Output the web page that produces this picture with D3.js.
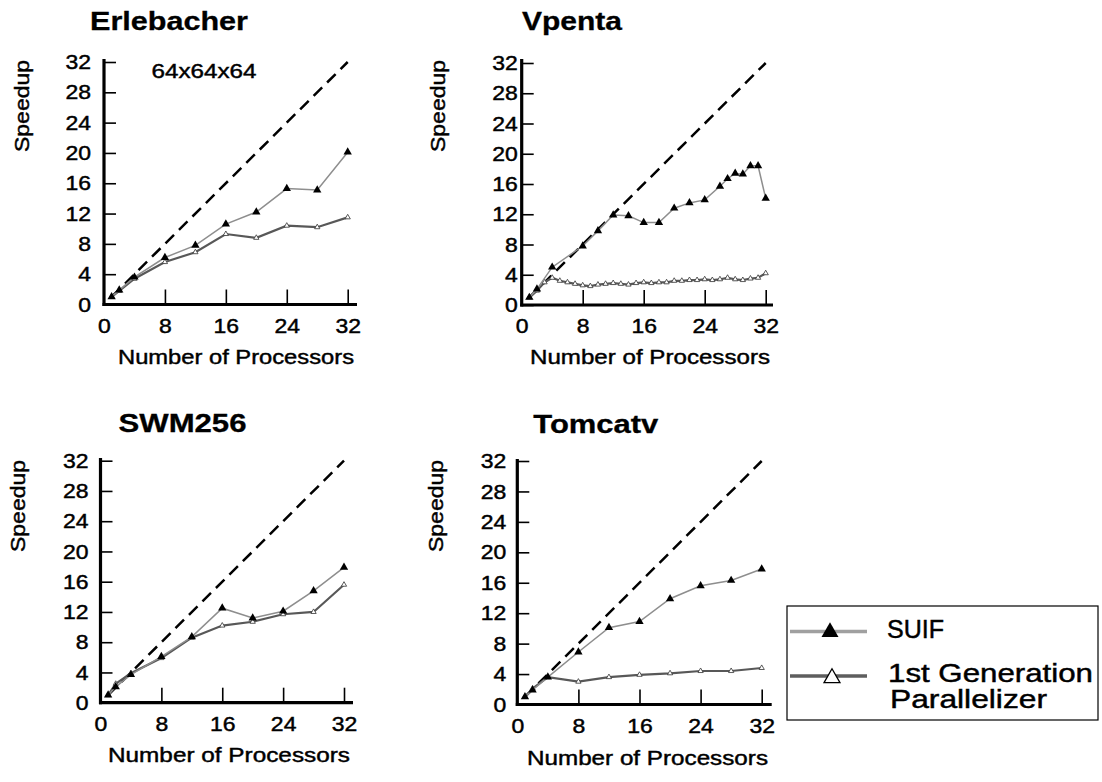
<!DOCTYPE html>
<html><head><meta charset="utf-8">
<script src="https://cdn.jsdelivr.net/npm/d3@7"></script>
<style>
body{margin:0;background:#fff;}
svg{display:block;background:#fff;}
text{font-family:"Liberation Sans", Arial, Helvetica, sans-serif; fill:#000; stroke:#000; stroke-width:0.45px;}
</style>
</head><body>
<svg id="chart" width="1102" height="782"></svg>
<script>
// ---------------- DATA ----------------
const titles = ["Erlebacher", "Vpenta", "SWM256", "Tomcatv"];
const xTickValues = [0, 8, 16, 24, 32];
const yTickValues = [0, 4, 8, 12, 16, 20, 24, 28, 32];
const xAxisTitle = "Number of Processors";
const yAxisTitle = "Speedup";
const annotation = "64x64x64";
const legendLabels = ["SUIF", "1st Generation", "Parallelizer"];

const idealProcs = [1, 32];
const idealSpeedup = [1, 32];

const erleProcs = [1, 2, 4, 8, 12, 16, 20, 24, 28, 32];
const erleSuif  = [1, 1.9, 3.6, 6.2, 7.8, 10.6, 12.2, 15.3, 15.1, 20.1];
const erleGen1  = [1, 1.8, 3.4, 5.6, 6.9, 9.3, 8.8, 10.4, 10.2, 11.5];

const vpentaSuifProcs = [1, 2, 4, 8, 10, 12, 14, 16, 18, 20, 22, 24, 26, 27, 28, 29, 30, 31, 32];
const vpentaSuif      = [1, 2.1, 5.0, 7.8, 9.8, 11.9, 11.8, 10.9, 10.9, 12.8, 13.5, 13.9, 15.7, 16.7, 17.4, 17.3, 18.4, 18.4, 14.1];
const vpentaGen1Procs = [1, 2, 3, 4, 5, 6, 7, 8, 9, 10, 11, 12, 13, 14, 15, 16, 17, 18, 19, 20, 21, 22, 23, 24, 25, 26, 27, 28, 29, 30, 31, 32];
const vpentaGen1      = [1, 1.9, 3.0, 3.6, 3.2, 3.0, 2.8, 2.6, 2.5, 2.7, 2.8, 2.9, 2.8, 2.7, 2.9, 3.0, 2.9, 3.0, 3.0, 3.2, 3.2, 3.3, 3.3, 3.4, 3.3, 3.4, 3.6, 3.4, 3.3, 3.5, 3.6, 4.2];

const swmProcs = [1, 2, 4, 8, 12, 16, 20, 24, 28, 32];
const swmSuif  = [1, 2.1, 3.7, 6.1, 8.7, 12.5, 11.2, 12.1, 14.8, 17.9];
const swmGen1  = [1, 2.5, 3.9, 5.9, 8.6, 10.2, 10.7, 11.7, 12.0, 15.6];

const tomProcs = [1, 2, 4, 8, 12, 16, 20, 24, 28, 32];
const tomSuif  = [1, 1.9, 3.6, 6.9, 10.1, 10.9, 13.9, 15.6, 16.3, 17.8];
const tomGen1  = [1, 2.1, 3.6, 3.0, 3.6, 3.9, 4.1, 4.4, 4.4, 4.8];

// ---------------- LAYOUT ----------------
const layouts = [
  {x0:104,   x32:347.7, y0:304.5, y32:62,    xEnd:357,   yTop:59,  gap:13,
   tX:169,   tY:29.5,  tW:158, spX:28.5,  spY:106, xlX:236,   xlY:364,   xlW:236},
  {x0:521.7, x32:765.7, y0:305,   y32:63,    xEnd:773,   yTop:59,  gap:4,
   tX:572,   tY:29.5,  tW:100, spX:445,   spY:106, xlX:650,   xlY:363.5, xlW:240},
  {x0:100.5, x32:344,   y0:702.7, y32:460.7, xEnd:353,   yTop:458, gap:12,
   tX:182.5, tY:431.5, tW:128, spX:25,    spY:506, xlX:229,   xlY:761.5, xlW:242},
  {x0:517.3, x32:761.7, y0:704.5, y32:461,   xEnd:771.7, yTop:459, gap:11,
   tX:595.8, tY:433,   tW:125, spX:443,   spY:506, xlX:647.5, xlY:765,   xlW:241}
];

const panels = [
  {suifX: erleProcs, suif: erleSuif, genX: erleProcs, gen: erleGen1},
  {suifX: vpentaSuifProcs, suif: vpentaSuif, genX: vpentaGen1Procs, gen: vpentaGen1},
  {suifX: swmProcs, suif: swmSuif, genX: swmProcs, gen: swmGen1},
  {suifX: tomProcs, suif: tomSuif, genX: tomProcs, gen: tomGen1}
];

const svg = d3.select("#chart");
const TICK_FS = 20.5, TICK_SX = 1.12;
const SUIF_COLOR = "#8e8e8e", GEN_COLOR = "#585858";

function zipXY(xs, ys){ return xs.map((v,i)=>[v, ys[i]]); }

panels.forEach((p, i) => {
  const L = layouts[i];
  const g = svg.append("g");
  const x = d3.scaleLinear().domain([0, 32]).range([L.x0, L.x32]);
  const y = d3.scaleLinear().domain([0, 32]).range([L.y0, L.y32]);

  // title
  g.append("text").attr("x", L.tX).attr("y", L.tY)
    .attr("text-anchor","middle").attr("font-size", 25).attr("font-weight","bold")
    .style("stroke-width","0.3px")
    .attr("textLength", L.tW).attr("lengthAdjust","spacingAndGlyphs")
    .text(titles[i]);

  // y axis
  const yAxis = d3.axisLeft(y).tickValues(yTickValues).tickSizeInner(-12).tickSizeOuter(0).tickPadding(L.gap);
  const ya = g.append("g").attr("transform", `translate(${L.x0},0)`).call(yAxis);
  ya.select(".domain").remove();
  ya.attr("font-size", null).attr("font-family", null);
  ya.selectAll(".tick line").attr("stroke","#000").attr("stroke-width",1.6);
  ya.selectAll(".tick text").attr("font-size", TICK_FS)
    .attr("x", -L.gap / TICK_SX).attr("transform", `scale(${TICK_SX},1)`);

  // x axis
  const xAxis = d3.axisBottom(x).tickValues(xTickValues).tickSizeInner(-15).tickSizeOuter(0).tickPadding(13.5);
  const xa = g.append("g").attr("transform", `translate(0,${L.y0})`).call(xAxis);
  xa.select(".domain").remove();
  xa.attr("font-size", null).attr("font-family", null);
  xa.selectAll(".tick line").attr("stroke","#000").attr("stroke-width",1.6)
    .filter(d => d === 0).remove();
  xa.selectAll(".tick text").attr("font-size", TICK_FS).attr("transform", `scale(${TICK_SX},1)`);

  // axis lines
  g.append("line").attr("x1", L.x0).attr("x2", L.x0).attr("y1", L.yTop).attr("y2", L.y0 + 1.5)
    .attr("stroke","#000").attr("stroke-width",3.2);
  g.append("line").attr("x1", L.x0 - 1.5).attr("x2", L.xEnd).attr("y1", L.y0).attr("y2", L.y0)
    .attr("stroke","#000").attr("stroke-width",3.2);

  // axis titles
  g.append("text").attr("transform", `translate(${L.spX},${L.spY}) rotate(-90)`)
    .attr("text-anchor","middle").attr("font-size", 20.5)
    .attr("textLength", 92).attr("lengthAdjust","spacingAndGlyphs")
    .text(yAxisTitle);
  g.append("text").attr("x", L.xlX).attr("y", L.xlY)
    .attr("text-anchor","middle").attr("font-size", 21)
    .attr("textLength", L.xlW).attr("lengthAdjust","spacingAndGlyphs")
    .text(xAxisTitle);

  const line = d3.line().x(d => x(d[0])).y(d => y(d[1]));

  // ideal dashed line
  g.append("path").attr("d", line(zipXY(idealProcs, idealSpeedup)))
    .attr("fill","none").attr("stroke","#000").attr("stroke-width",2.5)
    .attr("stroke-dasharray","12,7");

  // 1st generation
  const genPts = zipXY(p.genX, p.gen);
  g.append("path").attr("d", line(genPts))
    .attr("fill","none").attr("stroke",GEN_COLOR).attr("stroke-width",2.2);
  g.selectAll(".gm").data(genPts).join("path")
    .attr("transform", d => `translate(${x(d[0])},${y(d[1])})`)
    .attr("d", d3.symbol(d3.symbolTriangle, 12)())
    .attr("fill","#fff").attr("stroke","#333").attr("stroke-width",0.8);

  // SUIF
  const suifPts = zipXY(p.suifX, p.suif);
  g.append("path").attr("d", line(suifPts))
    .attr("fill","none").attr("stroke",SUIF_COLOR).attr("stroke-width",1.5);
  g.selectAll(".sm").data(suifPts).join("path")
    .attr("transform", d => `translate(${x(d[0])},${y(d[1])})`)
    .attr("d", d3.symbol(d3.symbolTriangle, 30)())
    .attr("fill","#000");

  if (i === 0) {
    g.append("text").attr("x", 204).attr("y", 78.3)
      .attr("text-anchor","middle").attr("font-size", 21)
      .attr("textLength", 105).attr("lengthAdjust","spacingAndGlyphs")
      .text(annotation);
  }
});

// ---------------- LEGEND ----------------
const lg = svg.append("g");
lg.append("rect").attr("x", 787).attr("y", 606).attr("width", 311).attr("height", 114)
  .attr("fill","#fff").attr("stroke","#000").attr("stroke-width",1.2);
lg.append("line").attr("x1",790).attr("x2",867).attr("y1",631.5).attr("y2",631.5)
  .attr("stroke","#a0a0a0").attr("stroke-width",3.5);
lg.append("path").attr("transform","translate(830,632)")
  .attr("d", d3.symbol(d3.symbolTriangle, 125)()).attr("fill","#000");
lg.append("line").attr("x1",790).attr("x2",867).attr("y1",676).attr("y2",676)
  .attr("stroke","#5e5e5e").attr("stroke-width",3.5);
lg.append("path").attr("transform","translate(832,678)")
  .attr("d", d3.symbol(d3.symbolTriangle, 110)()).attr("fill","#fff")
  .attr("stroke","#000").attr("stroke-width",1.3);
lg.append("text").attr("x",887).attr("y",638.3).attr("font-size",25)
  .attr("textLength",57).attr("lengthAdjust","spacingAndGlyphs").text(legendLabels[0]);
lg.append("text").attr("x",888).attr("y",681.7).attr("font-size",25.5)
  .attr("textLength",205).attr("lengthAdjust","spacingAndGlyphs").text(legendLabels[1]);
lg.append("text").attr("x",890).attr("y",708).attr("font-size",25.5)
  .attr("textLength",157).attr("lengthAdjust","spacingAndGlyphs").text(legendLabels[2]);
</script>
</body></html>
